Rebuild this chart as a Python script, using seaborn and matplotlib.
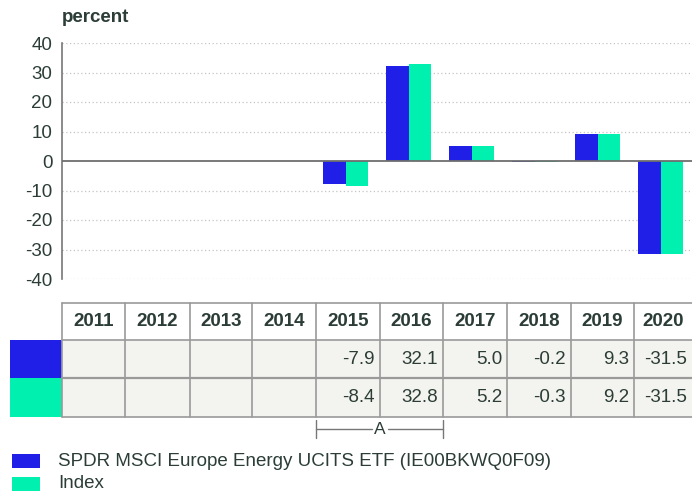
import numpy as np
import pandas as pd
import matplotlib
matplotlib.use("Agg")
import matplotlib.pyplot as plt
import seaborn as sns
from matplotlib.patches import Rectangle

years = ["2011", "2012", "2013", "2014", "2015", "2016", "2017", "2018", "2019", "2020"]
etf_values = [np.nan, np.nan, np.nan, np.nan, -7.9, 32.1, 5.0, -0.2, 9.3, -31.5]
index_values = [np.nan, np.nan, np.nan, np.nan, -8.4, 32.8, 5.2, -0.3, 9.2, -31.5]
series_names = ["SPDR MSCI Europe Energy UCITS ETF (IE00BKWQ0F09)", "Index"]
yticks = [40, 30, 20, 10, 0, -10, -20, -30, -40]

colors = ["#1f1fe8", "#00f0b0"]
text_color = "#2b3d36"

sns.set_theme(style="white")
plt.rcParams['font.family'] = ['Liberation Sans', 'DejaVu Sans']

W, H = 692, 492
fig = plt.figure(figsize=(W / 100, H / 100), dpi=100)

def fx(px):
    return px / W

def fy(py):
    return 1 - py / H

# main axes
ax_left, ax_right, ax_top, ax_bottom = 62, 692, 43, 279
ax = fig.add_axes([fx(ax_left), fy(ax_bottom), fx(ax_right - ax_left), (ax_bottom - ax_top) / H])

rows = []
for y, a, b in zip(years, etf_values, index_values):
    if not np.isnan(a):
        rows.append({"year": y, "series": series_names[0], "value": a})
    if not np.isnan(b):
        rows.append({"year": y, "series": series_names[1], "value": b})
df = pd.DataFrame(rows)

sns.barplot(data=df, x="year", y="value", hue="series", order=years,
            hue_order=series_names, palette=colors, width=0.72, gap=0,
            saturation=1, ax=ax, legend=False, linewidth=0)

ax.set_xlim(-0.5, len(years) - 0.5)
ax.set_ylim(-40, 40)
ax.set_yticks(yticks)
ax.set_yticklabels([str(t) for t in yticks], color=text_color, fontsize=13.5)
ax.set_xticks([])
ax.set_xlabel("")
ax.set_ylabel("")
for t in yticks:
    if t == 0:
        ax.axhline(0, color="#6e6e6e", lw=1.3, zorder=3)
    else:
        ax.axhline(t, color="#c4c4c4", lw=0.9, ls=(0, (1, 2)), zorder=0)
for s in ["top", "right", "bottom"]:
    ax.spines[s].set_visible(False)
ax.spines["left"].set_color("#777777")
ax.spines["left"].set_linewidth(1.2)
ax.tick_params(axis="y", length=0, pad=7)

fig.text(fx(62), fy(18), "percent", fontsize=13.5, fontweight="bold",
         color=text_color, ha="left", va="center")

# table overlay axes in pixel coords
tab = fig.add_axes([0, 0, 1, 1])
tab.set_xlim(0, W)
tab.set_ylim(H, 0)
tab.axis("off")

col_edges = [62, 125, 190, 252, 316, 380, 443, 507, 571, 634, 692]
row_edges = [303, 340, 378, 417]
grid_c = "#9a9a9a"

# cell backgrounds
tab.add_patch(Rectangle((62, 340), 630, 77, facecolor="#f3f3ef", edgecolor="none"))
# swatches
tab.add_patch(Rectangle((10, 340), 52, 38, facecolor=colors[0], edgecolor="none"))
tab.add_patch(Rectangle((10, 378), 52, 39, facecolor=colors[1], edgecolor="none"))
# grid lines
for xe in col_edges[:-1]:
    tab.plot([xe, xe], [row_edges[0], row_edges[-1]], color=grid_c, lw=1.2)
for ye in row_edges:
    tab.plot([62, 692], [ye, ye], color=grid_c, lw=1.2 if ye != 378 else 1.6)

for i, y in enumerate(years):
    cx = (col_edges[i] + col_edges[i + 1]) / 2
    tab.text(cx, 322, y, ha="center", va="center", fontsize=13.5,
             fontweight="bold", color=text_color)
    for r, vals in enumerate([etf_values, index_values]):
        v = vals[i]
        if not np.isnan(v):
            tab.text(col_edges[i + 1] - 5, (row_edges[r + 1] + row_edges[r + 2]) / 2,
                     f"{v:.1f}", ha="right", va="center", fontsize=13.5, color=text_color)

# bracket A
tab.plot([316, 316], [420, 438], color="#777777", lw=1)
tab.plot([443, 443], [420, 438], color="#777777", lw=1)
tab.plot([316, 372], [429, 429], color="#777777", lw=1)
tab.plot([388, 443], [429, 429], color="#777777", lw=1)
tab.text(380, 430, "A", ha="center", va="center", fontsize=12.5, color=text_color)

# legend
for k, (name, c) in enumerate(zip(series_names, colors)):
    yy = 461 + k * 23
    tab.add_patch(Rectangle((12, yy - 7), 28, 14, facecolor=c, edgecolor="none"))
    tab.text(58, yy, name, ha="left", va="center", fontsize=13.5, color=text_color)

fig.savefig("out.png", dpi=100)
